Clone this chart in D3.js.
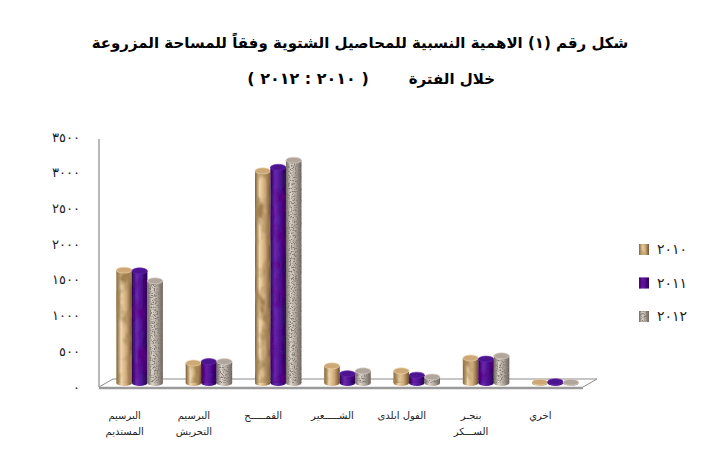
<!DOCTYPE html>
<html>
<head>
<meta charset="utf-8">
<script src="https://cdn.jsdelivr.net/npm/d3@7.9.0/dist/d3.min.js"></script>
<style>
  body { margin: 0; background: #fff; }
  svg { display: block; font-family: "DejaVu Sans", sans-serif; }
</style>
</head>
<body>
<svg id="chart" width="702" height="455"></svg>
<script>
const categories = ['البرسيم المستديم', 'البرسيم التحريش', 'القمح', 'الشعير', 'الفول البلدى', 'بنجر السكر', 'اخري'];
const categoryLines = [['البرسيم', 'المستديم'], ['البرسيم', 'التحريش'], ['القمـــــح'], ['الشـــــعير'], ['الفول ابلدى'], ['بنجـر', 'الســـكر'], ['اخري']];
const years = ['2010', '2011', '2012'];
const yearLabels = ['٢٠١٠', '٢٠١١', '٢٠١٢'];
const values2010 = [1580, 280, 2970, 240, 170, 350, 12];
const values2011 = [1570, 300, 3020, 130, 110, 335, 18];
const values2012 = [1430, 300, 3120, 170, 85, 380, 10];
const yTicks = [0, 500, 1000, 1500, 2000, 2500, 3000, 3500];
const yTickLabels = ['٠', '٥٠٠', '١٠٠٠', '١٥٠٠', '٢٠٠٠', '٢٥٠٠', '٣٠٠٠', '٣٥٠٠'];
const titleLine1 = 'شكل رقم (١) الاهمية النسبية للمحاصيل الشتوية وفقاً للمساحة المزروعة';
const titleLine2a = 'خلال الفترة';
const titleLine2b = '( ٢٠١٠ : ٢٠١٢ )';

const series = [values2010, values2011, values2012];

const svg = d3.select('#chart');
const defs = svg.append('defs');

// cylinder shading + texture per year
const shades = [
  ['#7a5a32', '#efd6ab', '#cda978', '#6e4f2a'],
  ['#2a0650', '#6a28b0', '#4c1590', '#250548'],
  ['#6e655e', '#ddd4ca', '#b0a69c', '#655c55']
];
const noise = [
  { freq: '0.07 0.045', oct: 3, col: [0.36, 0.22, 0.08], a: 3.4, b: -1.45 },
  { freq: '0.08 0.05', oct: 3, col: [0.10, 0.0, 0.22], a: 2.4, b: -1.1 },
  { freq: '0.7', oct: 2, col: [0.22, 0.2, 0.18], a: 4.2, b: -1.9 }
];
shades.forEach((s, i) => {
  const g = defs.append('linearGradient').attr('id', `grad-${i}`)
    .attr('x1', 0).attr('x2', 1).attr('y1', 0).attr('y2', 0);
  [0, 0.3, 0.65, 1].forEach((o, k) => g.append('stop').attr('offset', o).attr('stop-color', s[k]));
  const n = noise[i];
  const f = defs.append('filter').attr('id', `tex-${i}`)
    .attr('x', 0).attr('y', 0).attr('width', 1).attr('height', 1);
  f.append('feTurbulence').attr('type', 'fractalNoise').attr('baseFrequency', n.freq)
    .attr('numOctaves', n.oct).attr('seed', 3 + i).attr('result', 'n');
  f.append('feColorMatrix').attr('in', 'n').attr('type', 'matrix')
    .attr('values', `0 0 0 0 ${n.col[0]} 0 0 0 0 ${n.col[1]} 0 0 0 0 ${n.col[2]} ${n.a} 0 0 0 ${n.b}`)
    .attr('result', 'd');
  f.append('feComposite').attr('in', 'd').attr('in2', 'SourceGraphic').attr('operator', 'in').attr('result', 'd2');
  const m = f.append('feMerge');
  m.append('feMergeNode').attr('in', 'SourceGraphic');
  m.append('feMergeNode').attr('in', 'd2');
});

const y = d3.scaleLinear().domain([0, 3500]).range([387, 137]);
const x = d3.scaleBand().domain(categories).range([105, 590]).paddingInner(0.33).paddingOuter(0.165);
const x1 = d3.scaleBand().domain(years).range([0, x.bandwidth()]);
const depth = { dx: 14, dy: 8 };
const lift = 4;

// title
svg.append('text').attr('x', 360).attr('y', 48).attr('text-anchor', 'middle')
  .attr('font-size', 15).attr('font-weight', 'bold').attr('direction', 'rtl')
  .text(titleLine1);
svg.append('text').attr('x', 495).attr('y', 84).attr('text-anchor', 'start')
  .attr('font-size', 15).attr('font-weight', 'bold').attr('direction', 'rtl')
  .text(titleLine2a);
svg.append('text').attr('x', 308).attr('y', 84).attr('text-anchor', 'middle')
  .attr('font-size', 16).attr('font-weight', 'bold').attr('letter-spacing', 5)
  .text(titleLine2b);

// floor + axis line
const x0 = x.range()[0] - 6, xEnd = x.range()[1] - 7;
svg.append('path')
  .attr('d', `M${x0},${y(0)} L${x0 + depth.dx},${y(0) - depth.dy} L${xEnd + depth.dx},${y(0) - depth.dy} L${xEnd},${y(0)}`)
  .attr('fill', 'none').attr('stroke', '#8c8c8c').attr('stroke-width', 1);
svg.append('line').attr('x1', x0).attr('x2', xEnd).attr('y1', y(0) + 1).attr('y2', y(0) + 1)
  .attr('stroke', '#9a9a9a').attr('stroke-width', 2.5);
svg.append('line').attr('x1', x0).attr('x2', x0).attr('y1', y(3500) + 2).attr('y2', y(0))
  .attr('stroke', '#a0a0a0').attr('stroke-width', 1.5);

// y tick labels
svg.append('g').selectAll('text').data(yTicks).join('text')
  .attr('x', 80).attr('y', d => y(d)).attr('dy', '0.35em')
  .attr('text-anchor', 'end').attr('font-size', 13).attr('letter-spacing', 6)
  .attr('fill', '#222')
  .text((d, i) => yTickLabels[i]);

// cylinders
const rows = categories.flatMap((c, ci) => years.map((yr, si) => ({ c, yr, si, v: series[si][ci] })));
const bars = svg.append('g').selectAll('g').data(rows).join('g');
const bw = x1.bandwidth();
const ry = 3;
bars.append('ellipse')
  .attr('cx', d => x(d.c) + x1(d.yr) + bw / 2).attr('cy', y(0) - lift)
  .attr('rx', bw / 2).attr('ry', ry)
  .attr('fill', d => `url(#grad-${d.si})`);
bars.append('rect')
  .attr('x', d => x(d.c) + x1(d.yr)).attr('width', bw)
  .attr('y', d => y(d.v) - lift).attr('height', d => y(0) - y(d.v))
  .attr('fill', d => `url(#grad-${d.si})`)
  .attr('filter', d => `url(#tex-${d.si})`);
bars.append('ellipse')
  .attr('cx', d => x(d.c) + x1(d.yr) + bw / 2).attr('cy', d => y(d.v) - lift)
  .attr('rx', bw / 2).attr('ry', ry)
  .attr('fill', d => shades[d.si][2])
  .attr('stroke', d => shades[d.si][1]).attr('stroke-width', 0.6);

// category labels
const lab = svg.append('g').selectAll('text').data(categories).join('text')
  .attr('x', d => x(d) + x.bandwidth() / 2 - 15)
  .attr('y', 419).attr('text-anchor', 'middle').attr('font-size', 10).attr('fill', '#222');
lab.selectAll('tspan').data((d, i) => categoryLines[i]).join('tspan')
  .attr('x', function () { return d3.select(this.parentNode).attr('x'); })
  .attr('dy', (d, i) => i === 0 ? 0 : 16)
  .text(d => d);

// legend
const leg = svg.append('g').selectAll('g').data(years).join('g')
  .attr('transform', (d, i) => `translate(639, ${244 + i * 33.5})`);
leg.append('rect').attr('width', 10).attr('height', 11)
  .attr('fill', (d, i) => `url(#grad-${i})`)
  .attr('filter', (d, i) => `url(#tex-${i})`);
leg.append('text').attr('x', 18).attr('y', 5.5).attr('dy', '0.35em')
  .attr('font-size', 14).attr('letter-spacing', 4.5).attr('fill', '#222')
  .text((d, i) => yearLabels[i]);
</script>
</body>
</html>
